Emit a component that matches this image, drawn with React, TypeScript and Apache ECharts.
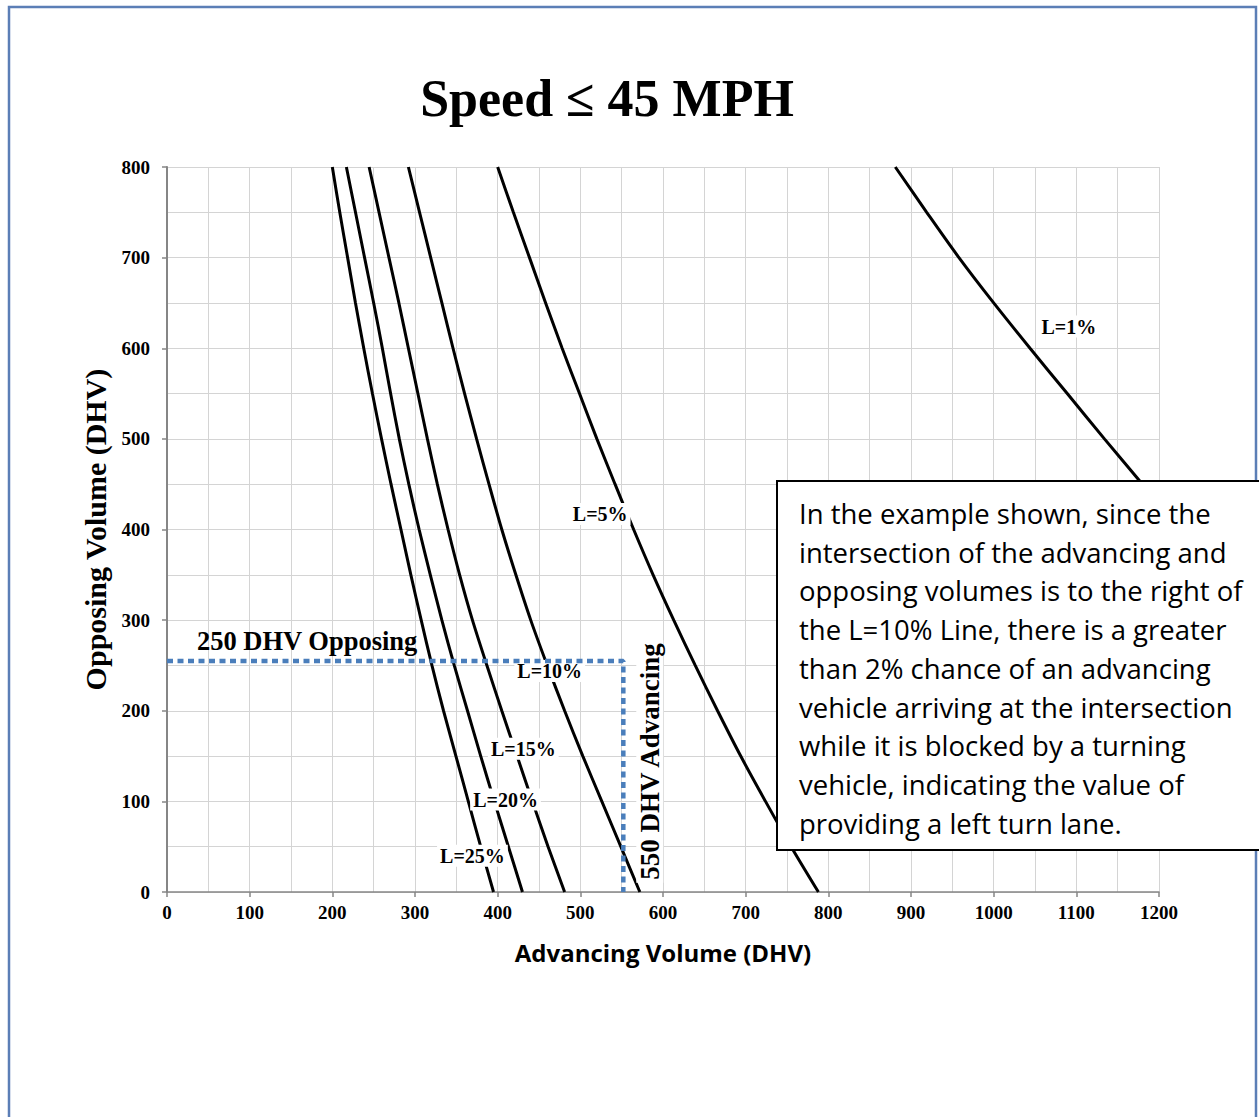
import React, { useEffect, useRef } from "react";
import * as echarts from "echarts";

// Opposing volume levels (y) at which the curves were read
const yLevels = [800, 750, 700, 650, 600, 550, 500, 450, 400, 350, 300, 250, 200, 150, 100, 50, 0];
// Advancing volume (x) of each curve at those levels
const xL25 = [200, 209, 218.5, 228, 238, 248.5, 259.5, 271, 283, 295, 307.5, 320.5, 334.5, 349.5, 364.5, 379.5, 395];
const xL20 = [217, 228, 239, 250, 260.5, 270.5, 281, 292.5, 305, 318.5, 332.5, 347.5, 363.5, 379.5, 396, 413, 430];
const xL15 = [244.5, 256.5, 268.5, 280.5, 292, 303.5, 315, 327, 340, 354, 369.5, 387, 405, 423.5, 442, 461, 481];
const xL10 = [292, 305.5, 319, 332.5, 346, 360, 374.5, 389.5, 405, 422, 440, 460, 481, 503, 526, 549, 572];
const xL5 = [400, 419, 438.5, 458, 478, 499, 520, 542, 564.5, 588, 613, 639, 666, 694, 724, 755, 788];
const yL1 = [800, 750, 700, 650, 600, 550, 500, 450, 430];
const xL1 = [881, 919, 958, 1000, 1044, 1089, 1134, 1180, 1199];

// Curve labels and where they sit (data coordinates)
const curveLabels = ["L=25%", "L=20%", "L=15%", "L=10%", "L=5%", "L=1%"];
const labelX = [369.5, 409.5, 431, 463, 524, 1091];
const labelY = [40, 102, 158, 244, 417, 624];

// Worked example
const exampleOpposing = 255;
const exampleAdvancing = 552;
const opposingText = "250 DHV Opposing";
const advancingText = "550 DHV Advancing";
const opposingTextPos = [169.5, 277];
const advancingTextPos = [584, 144];

const titleText = "Speed \u2264 45 MPH";
const xName = "Advancing Volume (DHV)";
const yName = "Opposing Volume (DHV)";

const noteLines = [
  "In the example shown, since the",
  "intersection of the advancing and",
  "opposing volumes is to the right of",
  "the L=10% Line, there is a greater",
  "than 2% chance of an advancing",
  "vehicle arriving at the intersection",
  "while it is blocked by a turning",
  "vehicle, indicating the value of",
  "providing a left turn lane.",
];

const SERIF = "'Liberation Serif', 'Times New Roman', serif";
const SANS = "'Open Sans', Lato, sans-serif";

function zip(xs: number[], ys: number[]) {
  return xs.map((x, i) => [x, ys[i]]);
}

export default function App() {
  const ref = useRef<HTMLDivElement>(null);

  useEffect(() => {
    document.body.style.margin = "0";
    if (!ref.current) return;
    const chart = echarts.init(ref.current, undefined, { renderer: "svg" });

    const curves = [
      { name: curveLabels[0], data: zip(xL25, yLevels) },
      { name: curveLabels[1], data: zip(xL20, yLevels) },
      { name: curveLabels[2], data: zip(xL15, yLevels) },
      { name: curveLabels[3], data: zip(xL10, yLevels) },
      { name: curveLabels[4], data: zip(xL5, yLevels) },
      { name: curveLabels[5], data: zip(xL1, yL1) },
    ];

    const gridColor = "#d4d4d4";
    const axisColor = "#868686";

    const textLabel = (size: number, extra: any = {}) => ({
      show: true,
      position: "inside",
      formatter: (p: any) => p.value[2],
      fontFamily: SERIF,
      fontWeight: "bold",
      fontSize: size,
      color: "#000",
      opacity: 1,
      textBorderWidth: 0,
      textBorderColor: "transparent",
      ...extra,
    });

    const labelSeries = (name: string, data: any[], label: any) => ({
      type: "scatter",
      name,
      symbolSize: 0,
      silent: true,
      z: 6,
      itemStyle: { opacity: 1 },
      emphasis: { disabled: true },
      data,
      label,
    });

    const option: any = {
      animation: false,
      backgroundColor: "#ffffff",
      grid: { left: 167, top: 167, width: 992, height: 725 },
      xAxis: {
        type: "value",
        min: 0,
        max: 1200,
        interval: 100,
        name: xName,
        nameLocation: "middle",
        nameGap: 48,
        nameTextStyle: { fontFamily: SANS, fontWeight: "bold", fontSize: 24, color: "#000" },
        axisLine: { show: true, onZero: false, lineStyle: { color: axisColor, width: 1.5 } },
        axisTick: { show: true, length: 5, lineStyle: { color: axisColor, width: 1.5 } },
        minorTick: { show: false, splitNumber: 2 },
        splitLine: { show: true, lineStyle: { color: gridColor, width: 1 } },
        minorSplitLine: { show: true, lineStyle: { color: gridColor, width: 1 } },
        axisLabel: {
          fontFamily: SERIF,
          fontWeight: "bold",
          fontSize: 19,
          color: "#000",
          margin: 11,
          formatter: (v: number) => String(v),
        },
      },
      yAxis: {
        type: "value",
        min: 0,
        max: 800,
        interval: 100,
        name: yName,
        nameLocation: "middle",
        nameRotate: 90,
        nameGap: 52,
        nameTextStyle: { fontFamily: SERIF, fontWeight: "bold", fontSize: 30, color: "#000" },
        axisLine: { show: true, onZero: false, lineStyle: { color: axisColor, width: 2 } },
        axisTick: { show: true, length: 5, lineStyle: { color: axisColor, width: 1.5 } },
        minorTick: { show: false, splitNumber: 2 },
        splitLine: { show: true, lineStyle: { color: gridColor, width: 1 } },
        minorSplitLine: { show: true, lineStyle: { color: gridColor, width: 1 } },
        axisLabel: {
          fontFamily: SERIF,
          fontWeight: "bold",
          fontSize: 19,
          color: "#000",
          margin: 17,
          formatter: (v: number) => String(v),
        },
      },
      series: [
        ...curves.map((c) => ({
          type: "line",
          name: c.name,
          data: c.data,
          symbol: "none",
          smooth: 0.3,
          silent: true,
          z: 3,
          lineStyle: { color: "#000", width: 3 },
        })),
        labelSeries(
          "curveLabels",
          curveLabels.map((t, i) => [labelX[i], labelY[i], t]),
          textLabel(20, { backgroundColor: "#fff", padding: [1, 3] })
        ),
        labelSeries(
          "opposingText",
          [[opposingTextPos[0], opposingTextPos[1], opposingText]],
          textLabel(26.5)
        ),
        labelSeries(
          "advancingText",
          [[advancingTextPos[0], advancingTextPos[1], advancingText]],
          textLabel(27, { rotate: 90, backgroundColor: "#fff", padding: [0, 2] })
        ),
        {
          type: "line",
          name: "example",
          data: [
            [0, exampleOpposing],
            [exampleAdvancing, exampleOpposing],
            [exampleAdvancing, 0],
          ],
          symbol: "none",
          silent: true,
          z: 8,
          lineStyle: { color: "#4a7ebb", width: 4.5, type: [6, 4.5] },
        },
      ],
      graphic: [
        {
          type: "rect",
          silent: true,
          z: 0,
          shape: { x: 9, y: 7, width: 1247, height: 1140 },
          style: { fill: "none", stroke: "#5b7eb6", lineWidth: 2.5 },
        },
        {
          type: "text",
          silent: true,
          z: 50,
          x: 607,
          y: 98,
          style: {
            text: titleText,
            font: `bold 52px ${SERIF}`,
            fill: "#000",
            textAlign: "center",
            textVerticalAlign: "middle",
          },
        },
        {
          type: "rect",
          silent: true,
          z: 100,
          shape: { x: 777, y: 481, width: 520, height: 369 },
          style: { fill: "#fff", stroke: "#000", lineWidth: 2 },
        },
        {
          type: "text",
          silent: true,
          z: 101,
          x: 799,
          y: 494,
          style: {
            text: noteLines.join("\n"),
            font: `27.5px ${SANS}`,
            lineHeight: 38.75,
            fill: "#000",
            textAlign: "left",
            textVerticalAlign: "top",
          },
        },
      ],
    };

    chart.setOption(option);
    return () => chart.dispose();
  }, []);

  return <div ref={ref} style={{ width: 1259, height: 1117 }} />;
}
